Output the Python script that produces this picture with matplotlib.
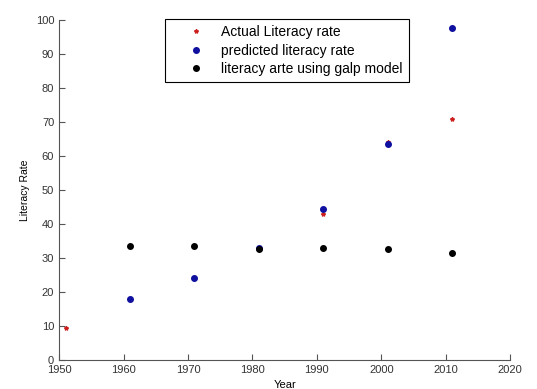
import matplotlib.pyplot as plt

plt.rcParams['font.family'] = ['Liberation Sans', 'DejaVu Sans']

years_actual = [1951, 1961, 1971, 1981, 1991, 2001, 2011]
actual_rate = [9.3, 18.0, 24.0, 32.5, 42.8, 64.0, 71.0]

years_pred = [1961, 1971, 1981, 1991, 2001, 2011]
predicted_rate = [17.9, 24.0, 33.0, 44.5, 63.5, 97.5]

years_galp = [1961, 1971, 1981, 1991, 2001, 2011]
galp_rate = [33.6, 33.6, 32.6, 33.0, 32.5, 31.6]

fig = plt.figure(figsize=(5.37, 3.89), dpi=100)
ax = fig.add_axes([0.11, 0.0746, 0.84, 0.874])

ax.plot(years_actual, actual_rate, '*', color='#cc2020', markersize=3, label='Actual Literacy rate')
ax.plot(years_pred, predicted_rate, 'o', color='#1010a0', markersize=4, label='predicted literacy rate')
ax.plot(years_galp, galp_rate, 'o', color='black', markersize=4, label='literacy arte using galp model')

ax.set_xlim(1950, 2020)
ax.set_ylim(0, 100)
ax.set_xticks(range(1950, 2021, 10))
ax.set_yticks(range(0, 101, 10))
ax.tick_params(direction='in', labelsize=8, length=4, color='#555555', labelcolor='#333333')
for s in ['top', 'right']:
    ax.spines[s].set_visible(False)
for s in ['left', 'bottom']:
    ax.spines[s].set_color('#555555')
ax.set_xlabel('Year', fontsize=8, labelpad=4)
ax.set_ylabel('Literacy Rate', fontsize=7.5)

leg = ax.legend(loc='upper left', bbox_to_anchor=(0.235, 1.003), fontsize=10, fancybox=False,
                edgecolor='black', framealpha=1, handlelength=3.5, handletextpad=0.1,
                borderpad=0.45, labelspacing=0.32, borderaxespad=0)
leg.get_frame().set_linewidth(0.8)

fig.savefig('out.png', dpi=100)
